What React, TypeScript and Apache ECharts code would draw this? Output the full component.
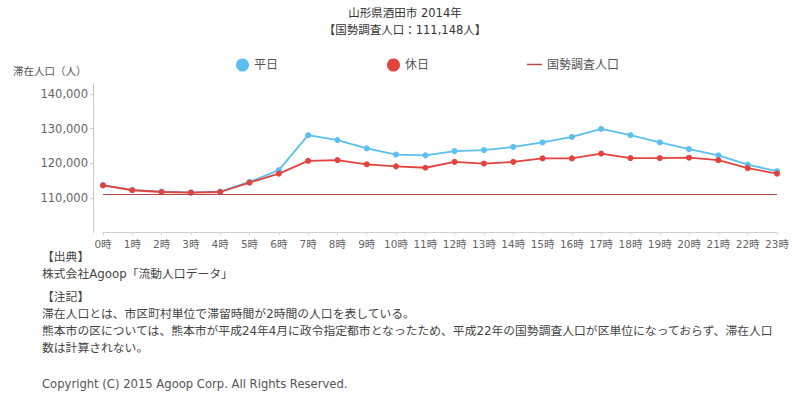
import React, { useEffect, useRef } from "react";
import * as echarts from "echarts";

const titleLines = ["山形県酒田市 2014年", "【国勢調査人口：111,148人】"];
const yAxisName = "滞在人口（人）";
const hours = [
  "0時", "1時", "2時", "3時", "4時", "5時", "6時", "7時", "8時", "9時", "10時", "11時",
  "12時", "13時", "14時", "15時", "16時", "17時", "18時", "19時", "20時", "21時", "22時", "23時",
];
const weekday = [
  113700, 112300, 111800, 111600, 111800, 114600, 118000, 128100, 126700, 124300, 122500, 122300,
  123500, 123800, 124700, 126000, 127600, 129900, 128100, 126000, 124100, 122300, 119600, 117700,
];
const holiday = [
  113600, 112200, 111700, 111500, 111700, 114400, 117000, 120700, 120900, 119700, 119100, 118700,
  120400, 119900, 120400, 121400, 121400, 122800, 121500, 121500, 121600, 120900, 118600, 117000,
];
const censusPopulation = 111148;
const seriesNames = ["平日", "休日", "国勢調査人口"];
const notes = [
  "【出典】",
  "株式会社Agoop「流動人口データ」",
  "【注記】",
  "滞在人口とは、市区町村単位で滞留時間が2時間の人口を表している。",
  "熊本市の区については、熊本市が平成24年4月に政令指定都市となったため、平成22年の国勢調査人口が区単位になっておらず、滞在人口",
  "数は計算されない。",
];
const copyright = "Copyright (C) 2015 Agoop Corp. All Rights Reserved.";

const FONT = "'DejaVu Sans', 'Noto Sans CJK JP', sans-serif";

export default function App() {
  const ref = useRef<HTMLDivElement>(null);

  useEffect(() => {
    if (!ref.current) return;
    const chart = echarts.init(ref.current, undefined, { renderer: "svg" });
    const noteYs = [257, 274, 297, 314, 331, 348];
    const legendText = { fontSize: 12, color: "#555", fontFamily: FONT };
    const option: any = {
      animation: false,
      textStyle: { fontFamily: FONT },
      grid: { left: 103, right: 15, top: 83.6, bottom: 160.5 },
      legend: [
        {
          data: [seriesNames[0]],
          left: 231,
          top: 53.5,
          icon: "circle",
          itemWidth: 13,
          itemHeight: 13,
          textStyle: legendText,
        },
        {
          data: [seriesNames[1]],
          left: 382,
          top: 53.5,
          icon: "circle",
          itemWidth: 13,
          itemHeight: 13,
          textStyle: legendText,
        },
        {
          data: [seriesNames[2]],
          left: 522,
          top: 53.5,
          icon: "path://M0,0H20V2H0Z",
          itemWidth: 15,
          itemHeight: 13,
          textStyle: legendText,
        },
      ],
      xAxis: {
        type: "category",
        data: hours,
        boundaryGap: false,
        axisLine: { show: true, lineStyle: { color: "#d0d0d0" } },
        axisTick: { show: true, alignWithLabel: true, length: 3, lineStyle: { color: "#d8d8d8" } },
        axisLabel: { interval: 0, fontSize: 10.5, color: "#666", margin: 6, fontFamily: FONT },
        splitLine: { show: false },
      },
      yAxis: {
        type: "value",
        min: 100000,
        max: 143000,
        interval: 10000,
        offset: 10,
        axisLine: { show: true, lineStyle: { color: "#c8c8c8" } },
        axisTick: { show: true, length: 3, lineStyle: { color: "#d0d0d0" } },
        axisLabel: {
          showMinLabel: false,
          showMaxLabel: false,
          fontSize: 11.5,
          color: "#666",
          margin: 5,
          fontFamily: FONT,
          formatter: (v: number) => v.toLocaleString("en-US"),
        },
        splitLine: { show: false },
      },
      series: [
        {
          name: seriesNames[0],
          type: "line",
          data: weekday,
          symbol: "circle",
          symbolSize: 6,
          color: "#5bbfef",
          lineStyle: { width: 1.8, color: "#5bbfef" },
          itemStyle: { color: "#5bbfef" },
          z: 3,
        },
        {
          name: seriesNames[1],
          type: "line",
          data: holiday,
          symbol: "circle",
          symbolSize: 6,
          color: "#e2433f",
          lineStyle: { width: 1.8, color: "#e2433f" },
          itemStyle: { color: "#e2433f" },
          z: 4,
        },
        {
          name: seriesNames[2],
          type: "line",
          data: [],
          color: "#b8494a",
          itemStyle: { color: "#b8494a" },
          lineStyle: { color: "#b8494a", width: 1.5 },
          markLine: {
            silent: true,
            symbol: ["none", "none"],
            label: { show: false },
            lineStyle: { color: "#b8494a", width: 1.2, type: "solid" },
            data: [{ yAxis: censusPopulation }],
          },
          z: 2,
        },
      ],
      graphic: [
        {
          type: "text",
          x: 405,
          y: 13,
          style: {
            text: titleLines[0],
            fill: "#333",
            font: `11.5px ${FONT}`,
            textAlign: "center",
            textVerticalAlign: "middle",
          },
        },
        {
          type: "text",
          x: 405,
          y: 30,
          style: {
            text: titleLines[1],
            fill: "#333",
            font: `11.5px ${FONT}`,
            textAlign: "center",
            textVerticalAlign: "middle",
          },
        },
        {
          type: "text",
          x: 13,
          y: 71,
          style: {
            text: yAxisName,
            fill: "#555",
            font: `10.5px ${FONT}`,
            textAlign: "left",
            textVerticalAlign: "middle",
          },
        },
        ...notes.map((t, i) => ({
          type: "text",
          x: 42,
          y: noteYs[i],
          style: {
            text: t,
            fill: "#444",
            font: `11.8px ${FONT}`,
            textAlign: "left",
            textVerticalAlign: "middle",
          },
        })),
        {
          type: "text",
          x: 42,
          y: 384,
          style: {
            text: copyright,
            fill: "#555",
            font: `11.6px ${FONT}`,
            textAlign: "left",
            textVerticalAlign: "middle",
          },
        },
      ],
    };
    chart.setOption(option);
    return () => chart.dispose();
  }, []);

  return (
    <div
      ref={ref}
      style={{ position: "absolute", left: 0, top: 0, width: 792, height: 393 }}
    />
  );
}
